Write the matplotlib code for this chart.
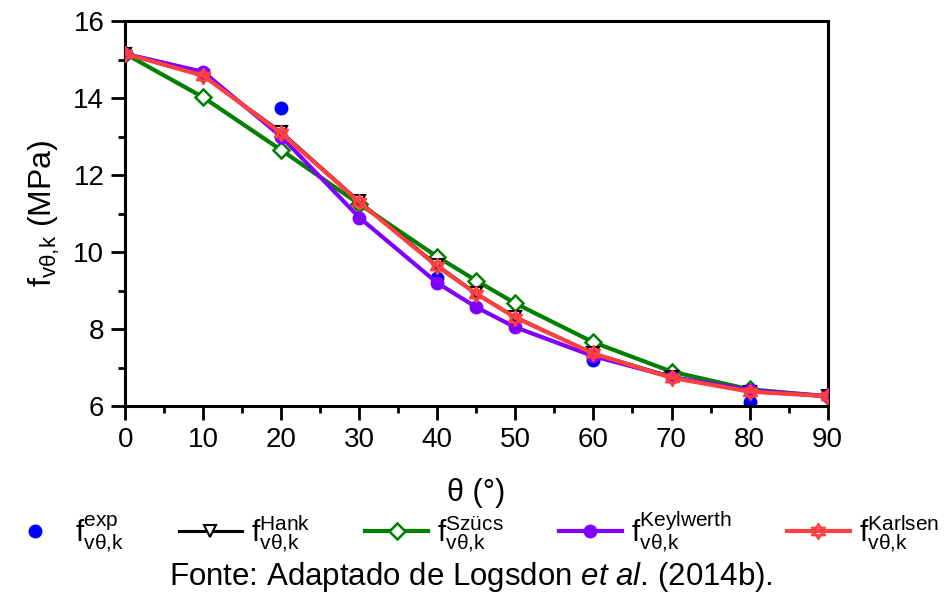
import numpy as np
import matplotlib
matplotlib.use('Agg')
import matplotlib.pyplot as plt
from matplotlib.path import Path
from matplotlib.ticker import MultipleLocator

plt.rcParams['font.family'] = ['Liberation Sans', 'DejaVu Sans']
plt.rcParams['mathtext.fontset'] = 'custom'
plt.rcParams['mathtext.rm'] = 'Liberation Sans'
plt.rcParams['mathtext.it'] = 'Liberation Sans:italic'

# angles (degrees)
theta = [0, 10, 20, 30, 40, 45, 50, 60, 70, 80, 90]
theta_exp = [0, 10, 20, 40, 60, 80]

# values (MPa)
f_exp = [15.15, 14.65, 13.74, 9.32, 7.2, 6.12]
f_hank = [15.15, 14.58, 13.12, 11.32, 9.66, 8.93, 8.32, 7.37, 6.77, 6.38, 6.26]
f_szucs = [15.15, 14.02, 12.65, 11.25, 9.88, 9.26, 8.67, 7.66, 6.9, 6.44, 6.26]
f_keyl = [15.15, 14.68, 13.0, 10.9, 9.2, 8.57, 8.05, 7.3, 6.76, 6.42, 6.26]
f_karl = [15.15, 14.58, 13.09, 11.3, 9.63, 8.92, 8.3, 7.37, 6.74, 6.38, 6.26]

labels = [r'$\mathrm{f_{v\theta{,}k}^{exp}}$',
          r'$\mathrm{f_{v\theta{,}k}^{Hank}}$',
          r'$\mathrm{f_{v\theta{,}k}^{Szücs}}$',
          r'$\mathrm{f_{v\theta{,}k}^{Keylwerth}}$',
          r'$\mathrm{f_{v\theta{,}k}^{Karlsen}}$']

# hexagram marker (two overlapping triangles)
h = 1.0
up = [(0, h), (-0.866*h, -0.5*h), (0.866*h, -0.5*h), (0, h)]
dn = [(0, -h), (-0.866*h, 0.5*h), (0.866*h, 0.5*h), (0, -h)]
star = Path(up + dn, [Path.MOVETO, Path.LINETO, Path.LINETO, Path.CLOSEPOLY] * 2)

fig = plt.figure(figsize=(9.48, 6.01), dpi=100)
ax = fig.add_axes([0.132, 0.324, 0.741, 0.641])

ax.plot(theta, f_hank, color='black', lw=2.2, marker='v', ms=8, mfc='white', mec='black', mew=1.5, zorder=3, label=labels[1])
ax.plot(theta, f_szucs, color='#008000', lw=3, marker='D', ms=8, mfc='white', mec='#008000', mew=1.8, zorder=2, label=labels[2])
ax.plot(theta, f_keyl, color='#7f00ff', lw=3, marker='o', ms=9, mfc='#7f00ff', mec='#7f00ff', zorder=4, label=labels[3])
ax.plot(theta, f_karl, color='#ff4040', lw=3, marker=star, ms=11, mfc='none', mec='#ff4040', mew=1.5, zorder=5, label=labels[4])
ax.plot(theta_exp, f_exp, ls='none', color='#0000ff', marker='o', ms=9, zorder=1, label=labels[0])

ax.set_xlim(0, 90)
ax.set_ylim(6, 16)
ax.xaxis.set_major_locator(MultipleLocator(10))
ax.xaxis.set_minor_locator(MultipleLocator(5))
ax.yaxis.set_major_locator(MultipleLocator(2))
ax.yaxis.set_minor_locator(MultipleLocator(1))
ax.tick_params(which='major', direction='out', length=10, width=2, labelsize=20, pad=5)
ax.tick_params(which='minor', direction='out', length=5, width=2)
for s in ax.spines.values():
    s.set_linewidth(2.2)

ax.set_xlabel('θ (°)', fontsize=22, labelpad=18)
ax.set_ylabel(r'$\mathrm{f_{v\theta{,}k}}$ (MPa)', fontsize=23, labelpad=8)

handles, labs = ax.get_legend_handles_labels()
order = [4, 0, 1, 2, 3]
fig.legend([handles[i] for i in order], [labs[i] for i in order], loc='center',
           bbox_to_anchor=(0.497, 0.115), ncol=5, frameon=False, fontsize=21.5,
           handlelength=2.1, columnspacing=1.85, handletextpad=0.3)

fig.text(0.497, 0.04, r'Fonte: Adaptado de Logsdon $\it{et\ al}$. (2014b).', ha='center', va='center', fontsize=22.5)

fig.savefig('out.png', dpi=100)
